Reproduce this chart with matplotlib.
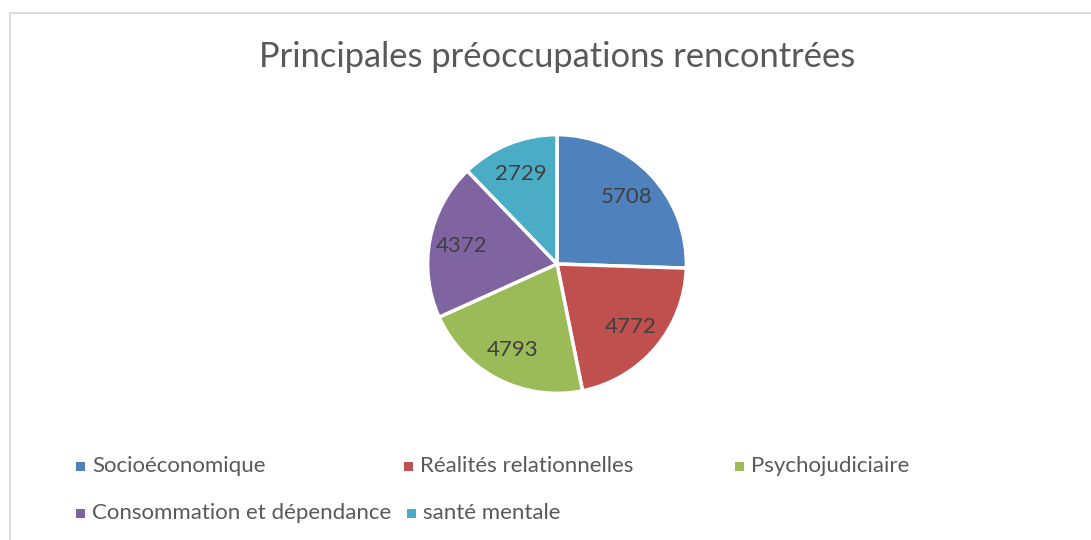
import matplotlib
matplotlib.use("Agg")
import matplotlib.pyplot as plt
from matplotlib.patches import Rectangle

categories = ["Socioéconomique", "Réalités relationnelles", "Psychojudiciaire",
              "Consommation et dépendance", "santé mentale"]
values = [5708, 4772, 4793, 4372, 2729]
colors = ["#4F81BD", "#C0504D", "#9BBB59", "#8064A2", "#4BACC6"]
title = "Principales préoccupations rencontrées"

W, H = 1091, 540
fig = plt.figure(figsize=(W / 100, H / 100), dpi=100)
plt.rcParams['font.family'] = ['Lato', 'DejaVu Sans']

# chart border (clipped at right/bottom as in the reference)
fig.patches.append(Rectangle((9.5 / W, -0.1), 2, 1 - 12.5 / H + 0.1,
                             transform=fig.transFigure, fill=False,
                             edgecolor="#d9d9d9", linewidth=1.3))

fig.text(557 / W, 1 - 57 / H, title, ha="center", va="center",
         fontsize=24.8, color="#595959")

cx, cy, r = 557, 264, 130
ax = fig.add_axes([(cx - r) / W, (H - cy - r) / H, 2 * r / W, 2 * r / H])
total = sum(values)
ax.pie(values, colors=colors, startangle=90, counterclock=False,
       autopct=lambda p: f"{round(p * total / 100):d}", pctdistance=0.75,
       wedgeprops=dict(edgecolor="white", linewidth=2.5),
       textprops=dict(fontsize=16, color="#404040"))
ax.set_xlim(-1.005, 1.005)
ax.set_ylim(-1.005, 1.005)
ax.set_aspect("equal")
ax.axis("off")

# legend (Excel-style flow layout)
legend_pos = [(80, 466), (408, 466), (739, 466), (80, 513), (411, 513)]
for (lx, ly), lab, col in zip(legend_pos, categories, colors):
    s = 9
    fig.patches.append(Rectangle(((lx - s / 2) / W, (H - ly - s / 2) / H), s / W, s / H,
                                 transform=fig.transFigure, facecolor=col,
                                 edgecolor="none"))
    fig.text((lx + 12) / W, 1 - ly / H, lab, ha="left", va="center",
             fontsize=16, color="#595959")

fig.savefig("out.png", dpi=100, facecolor="white")
